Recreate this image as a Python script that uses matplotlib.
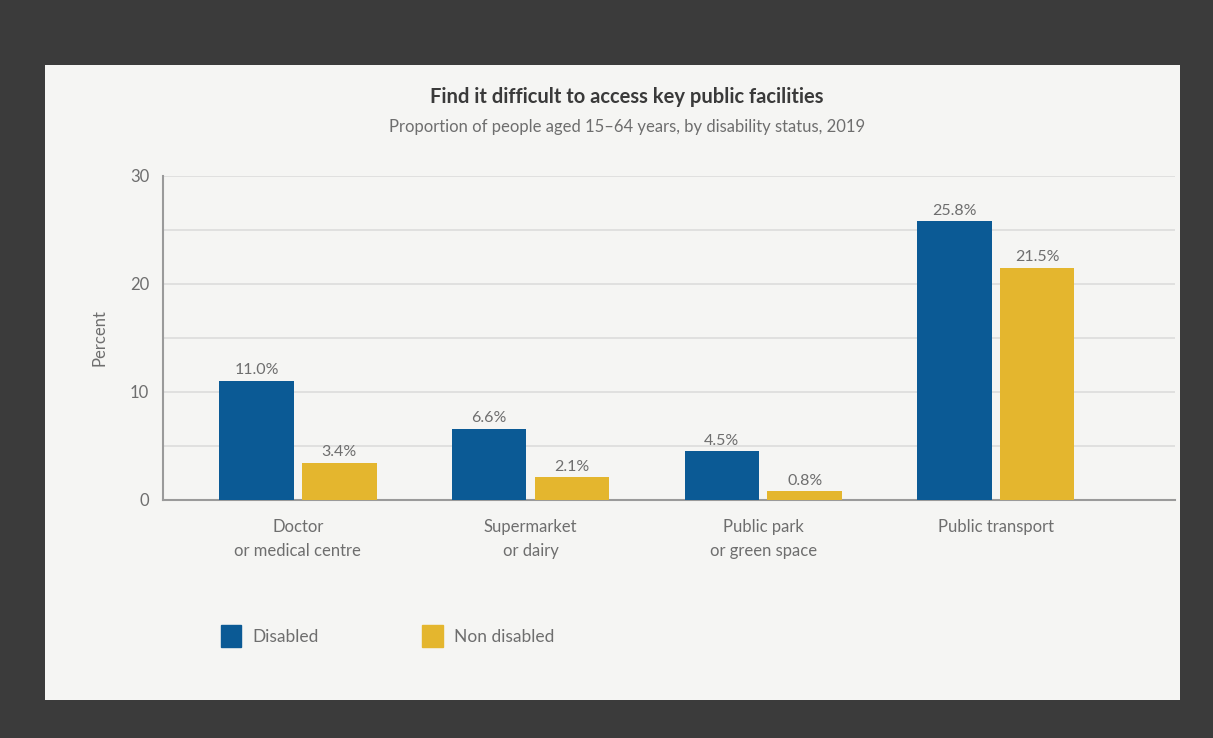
import matplotlib.pyplot as plt
import matplotlib.patches as mpatches
import numpy as np

plt.rcParams['font.family'] = ['Lato', 'DejaVu Sans']

# data
categories = ["Doctor\nor medical centre", "Supermarket\nor dairy",
              "Public park\nor green space", "Public transport"]
disabled = [11.0, 6.6, 4.5, 25.8]
non_disabled = [3.4, 2.1, 0.8, 21.5]
series_names = ["Disabled", "Non disabled"]
y_ticks = [0, 10, 20, 30]

blue = "#0b5a95"
yellow = "#e4b62e"
grey_txt = "#6e6e6e"

W, H = 1213, 738
fig = plt.figure(figsize=(W / 100, H / 100), dpi=100, facecolor="#3b3b3b")

# light card behind the chart
card = mpatches.Rectangle((45 / W, 1 - 700 / H), (1180 - 45) / W, (700 - 65) / H,
                          transform=fig.transFigure, facecolor="#f5f5f3",
                          edgecolor="none", zorder=-10)
fig.patches.append(card)

ax = fig.add_axes([163 / W, 1 - 500 / H, (1175 - 163) / W, (500 - 176) / H])
ax.set_facecolor("none")

x = np.arange(len(categories))
w = 0.32
gap = 0.018
b1 = ax.bar(x - w / 2 - gap, disabled, w, color=blue, zorder=3)
b2 = ax.bar(x + w / 2 + gap, non_disabled, w, color=yellow, zorder=3)

for bars, vals in ((b1, disabled), (b2, non_disabled)):
    for r, v in zip(bars, vals):
        ax.text(r.get_x() + r.get_width() / 2, v + 0.35, f"{v:.1f}%",
                ha="center", va="bottom", fontsize=11.5, color=grey_txt)

ax.set_xlim(-0.58, 3.77)
ax.set_ylim(0, 30)
ax.set_yticks(y_ticks)
ax.set_yticks([5, 15, 25], minor=True)
ax.tick_params(axis="y", which="both", length=0, labelsize=12, labelcolor=grey_txt, pad=10)
ax.set_xticks(x)
ax.set_xticklabels(categories, fontsize=12, color=grey_txt, linespacing=1.6)
ax.tick_params(axis="x", length=0, pad=14)
ax.grid(axis="y", which="both", color="#dcdcdc", linewidth=1.2, zorder=0)

for s in ("top", "right"):
    ax.spines[s].set_visible(False)
ax.spines["left"].set_color("#9a9a9a")
ax.spines["bottom"].set_color("#9a9a9a")
ax.spines["left"].set_linewidth(1.5)
ax.spines["bottom"].set_linewidth(1.5)

ax.set_ylabel("Percent", fontsize=12, color=grey_txt, labelpad=16)

fig.text(627 / W, 1 - 97 / H, "Find it difficult to access key public facilities",
         ha="center", va="center", fontsize=14.5, fontweight="bold", color="#3a3a3a")
fig.text(627 / W, 1 - 127 / H, "Proportion of people aged 15\u201364 years, by disability status, 2019",
         ha="center", va="center", fontsize=12, color=grey_txt)

handles = [mpatches.Patch(color=blue), mpatches.Patch(color=yellow)]
fig.legend(handles, series_names, loc="center left",
           bbox_to_anchor=(205 / W, 1 - 636 / H), ncol=2, frameon=False,
           fontsize=12.5, labelcolor=grey_txt, handlelength=1.2, handleheight=1.6,
           columnspacing=6.0, handletextpad=0.6)

fig.savefig("out.png", dpi=100, facecolor=fig.get_facecolor())
